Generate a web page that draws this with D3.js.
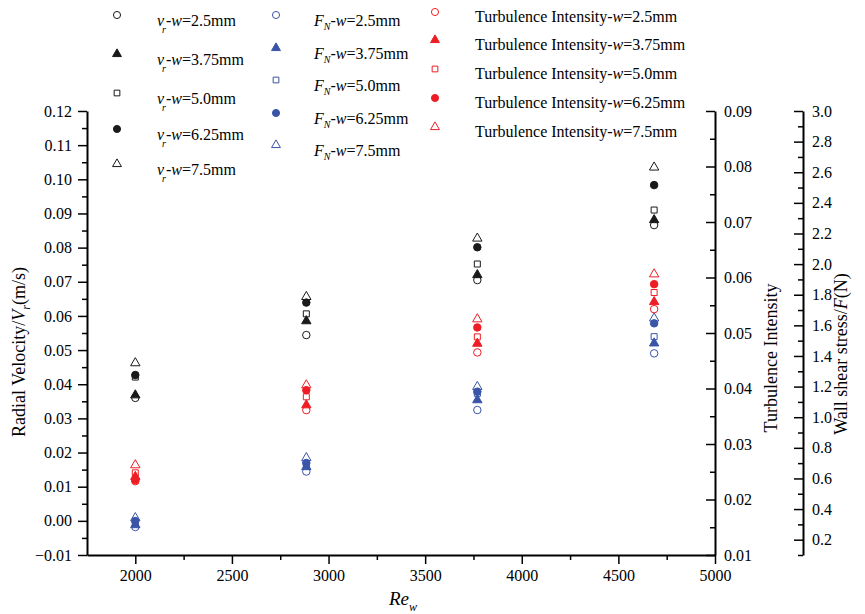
<!DOCTYPE html>
<html>
<head>
<meta charset="utf-8">
<script src="https://cdnjs.cloudflare.com/ajax/libs/d3/7.8.5/d3.min.js"></script>
<style>
    body { margin: 0; background: #fff; }
    svg text { font-family: "Liberation Serif", "Times New Roman", serif; fill: #000; }
    .tick text { font-size: 16px; }
</style>
</head>
<body>
<svg id="chart" width="865" height="614"></svg>
<script>
// x values: Reynolds number Re_w
var reW = [2000, 2885, 3770, 4685];
var gaps = ["2.5", "3.75", "5.0", "6.25", "7.5"];

// radial velocity v_r (m/s), one row per gap w
var radialVelocity = [
    [0.0360, 0.0544, 0.0705, 0.0866],
    [0.0368, 0.0585, 0.0720, 0.0881],
    [0.0421, 0.0606, 0.0752, 0.0910],
    [0.0427, 0.0639, 0.0801, 0.0983],
    [0.0462, 0.0656, 0.0827, 0.1035]
];

// wall shear stress F_N (N), one row per gap w
var wallShear = [
    [0.283, 0.645, 1.047, 1.417],
    [0.296, 0.675, 1.112, 1.483],
    [0.309, 0.688, 1.156, 1.526],
    [0.322, 0.701, 1.167, 1.613],
    [0.342, 0.734, 1.199, 1.646]
];

// turbulence intensity, one row per gap w
var turbulence = [
    [0.0233, 0.0361, 0.0465, 0.0543],
    [0.0241, 0.0370, 0.0481, 0.0556],
    [0.0248, 0.0385, 0.0493, 0.0573],
    [0.0235, 0.0397, 0.0510, 0.0588],
    [0.0262, 0.0406, 0.0525, 0.0606]
];

// tick values
var xTicks = [2000, 2500, 3000, 3500, 4000, 4500, 5000];
var vTicks = [-0.01, 0, 0.01, 0.02, 0.03, 0.04, 0.05, 0.06, 0.07, 0.08, 0.09, 0.10, 0.11, 0.12];
var tTicks = [0.01, 0.02, 0.03, 0.04, 0.05, 0.06, 0.07, 0.08, 0.09];
var fTicks = [0.2, 0.4, 0.6, 0.8, 1.0, 1.2, 1.4, 1.6, 1.8, 2.0, 2.2, 2.4, 2.6, 2.8, 3.0];

var BLACK = "#1a1a1a", BLUE = "#3a55a8", RED = "#ee1d25";

// marker per gap: open circle, filled triangle, open square, filled circle, open triangle
var shapes = [d3.symbolCircle, d3.symbolTriangle, d3.symbolSquare, d3.symbolCircle, d3.symbolTriangle];
var filled = [false, true, false, true, false];
var sizes = [44, 38, 36, 44, 38];

var svg = d3.select("#chart");

var plotTop = 111, plotBottom = 555, plotLeft = 87, plotRight = 715, farRight = 803;

var x = d3.scaleLinear().domain([1750, 5000]).range([plotLeft, plotRight]);
var yV = d3.scaleLinear().domain([-0.01, 0.12]).range([plotBottom, plotTop]);
var yT = d3.scaleLinear().domain([0.01, 0.09]).range([plotBottom, plotTop]);
var yF = d3.scaleLinear().domain([0.1, 3.0]).range([plotBottom, plotTop]);

function mids(arr) {
    var out = [];
    for (var i = 0; i < arr.length - 1; i++) out.push((arr[i] + arr[i + 1]) / 2);
    return out;
}

// drop d3's sans-serif defaults so the stylesheet font is used
function styleAxis(g) {
    g.attr("font-family", null).attr("font-size", null);
    g.select(".domain").attr("stroke", "#000").attr("stroke-width", 2);
    g.selectAll(".tick line").attr("stroke", "#000").attr("stroke-width", 1.5);
    g.selectAll(".tick text").attr("fill", "#000");
}
function styleMinor(g) {
    g.select(".domain").remove();
    g.selectAll(".tick line").attr("stroke", "#000").attr("stroke-width", 1.5);
}

// bottom axis
svg.append("g")
    .attr("transform", "translate(0," + plotBottom + ")")
    .call(d3.axisBottom(x).tickValues(xTicks).tickSize(9).tickSizeOuter(0).tickPadding(6)
        .tickFormat(d3.format("d")))
    .call(styleAxis);
svg.append("g")
    .attr("transform", "translate(0," + plotBottom + ")")
    .call(d3.axisBottom(x).tickValues([2250, 2750, 3250, 3750, 4250, 4750]).tickSize(5).tickFormat(""))
    .call(styleMinor);

// left axis
svg.append("g")
    .attr("transform", "translate(" + plotLeft + ",0)")
    .call(d3.axisLeft(yV).tickValues(vTicks).tickSize(9).tickSizeOuter(0).tickPadding(6)
        .tickFormat(d3.format(".2f")))
    .call(styleAxis);
svg.append("g")
    .attr("transform", "translate(" + plotLeft + ",0)")
    .call(d3.axisLeft(yV).tickValues(mids(vTicks)).tickSize(5).tickFormat(""))
    .call(styleMinor);

// turbulence axis, ticks point inward
svg.append("g")
    .attr("transform", "translate(" + plotRight + ",0)")
    .call(d3.axisRight(yT).tickValues(tTicks).tickSizeInner(-9).tickSizeOuter(0).tickPadding(9)
        .tickFormat(d3.format(".2f")))
    .call(styleAxis);
svg.append("g")
    .attr("transform", "translate(" + plotRight + ",0)")
    .call(d3.axisRight(yT).tickValues(mids(tTicks)).tickSizeInner(-5).tickSizeOuter(0).tickFormat(""))
    .call(styleMinor);

// wall shear stress axis
svg.append("g")
    .attr("transform", "translate(" + farRight + ",0)")
    .call(d3.axisRight(yF).tickValues(fTicks).tickSizeInner(-9).tickSizeOuter(0).tickPadding(9)
        .tickFormat(d3.format(".1f")))
    .call(styleAxis);
svg.append("g")
    .attr("transform", "translate(" + farRight + ",0)")
    .call(d3.axisRight(yF).tickValues(mids([0.0].concat(fTicks))).tickSizeInner(-5).tickSizeOuter(0).tickFormat(""))
    .call(styleMinor);

// axis titles
var lt = svg.append("text").attr("transform", "translate(25,352) rotate(-90)")
    .attr("text-anchor", "middle").style("font-size", "18px");
lt.append("tspan").text("Radial Velocity/");
lt.append("tspan").style("font-style", "italic").text("V");
lt.append("tspan").style("font-style", "italic").style("font-size", "12px").attr("dy", 5).text("r");
lt.append("tspan").attr("dy", -5).text("(m/s)");

svg.append("text").attr("transform", "translate(777,358) rotate(-90)")
    .attr("text-anchor", "middle").style("font-size", "18px").text("Turbulence Intensity");

var wt = svg.append("text").attr("transform", "translate(847,354) rotate(-90)")
    .attr("text-anchor", "middle").style("font-size", "18px");
wt.append("tspan").text("Wall shear stress/");
wt.append("tspan").style("font-style", "italic").text("F");
wt.append("tspan").text("(N)");

var xt = svg.append("text").attr("x", 403).attr("y", 605)
    .attr("text-anchor", "middle").style("font-size", "19px").style("font-style", "italic");
xt.append("tspan").text("Re");
xt.append("tspan").style("font-size", "12px").attr("dy", 6).text("w");

// scatter points
function drawGroup(values, yScale, color) {
    values.forEach(function(row, i) {
        svg.append("g").selectAll("path")
            .data(row)
            .enter().append("path")
            .attr("transform", function(d, j) { return "translate(" + x(reW[j]) + "," + yScale(d) + ")"; })
            .attr("d", d3.symbol().type(shapes[i]).size(sizes[i]))
            .attr("fill", filled[i] ? color : "none")
            .attr("stroke", color)
            .attr("stroke-width", 1);
    });
}
drawGroup(radialVelocity, yV, BLACK);
drawGroup(wallShear, yF, BLUE);
drawGroup(turbulence, yT, RED);

// legend
function marker(cx, cy, i, color) {
    svg.append("path")
        .attr("transform", "translate(" + cx + "," + cy + ")")
        .attr("d", d3.symbol().type(shapes[i]).size(sizes[i] * 0.9))
        .attr("fill", filled[i] ? color : "none")
        .attr("stroke", color)
        .attr("stroke-width", 1);
}

var col1Rows = [15, 54, 93, 129, 164];
var col2Rows = [15, 48, 80, 113, 145];
var col3Rows = [12, 40, 69, 98, 127];

gaps.forEach(function(w, i) {
    marker(117, col1Rows[i], i, BLACK);
    var t1 = svg.append("text").attr("x", 157).attr("y", col1Rows[i] + 11).style("font-size", "16px");
    t1.append("tspan").style("font-style", "italic").text("v");
    t1.append("tspan").style("font-style", "italic").style("font-size", "10px")
        .attr("dx", -2).attr("dy", 7).text("r");
    t1.append("tspan").attr("dy", -7).text("-");
    t1.append("tspan").style("font-style", "italic").text("w");
    t1.append("tspan").text("=" + w + "mm");

    marker(276, col2Rows[i], i, BLUE);
    var t2 = svg.append("text").attr("x", 314).attr("y", col2Rows[i] + 11).style("font-size", "16px");
    t2.append("tspan").style("font-style", "italic").text("F");
    t2.append("tspan").style("font-style", "italic").style("font-size", "10px")
        .attr("dy", 4).text("N");
    t2.append("tspan").attr("dy", -4).text("-");
    t2.append("tspan").style("font-style", "italic").text("w");
    t2.append("tspan").text("=" + w + "mm");

    marker(435, col3Rows[i], i, RED);
    var t3 = svg.append("text").attr("x", 475).attr("y", col3Rows[i] + 10).style("font-size", "16px");
    t3.append("tspan").text("Turbulence Intensity-");
    t3.append("tspan").style("font-style", "italic").text("w");
    t3.append("tspan").text("=" + w + "mm");
});
</script>
</body>
</html>
